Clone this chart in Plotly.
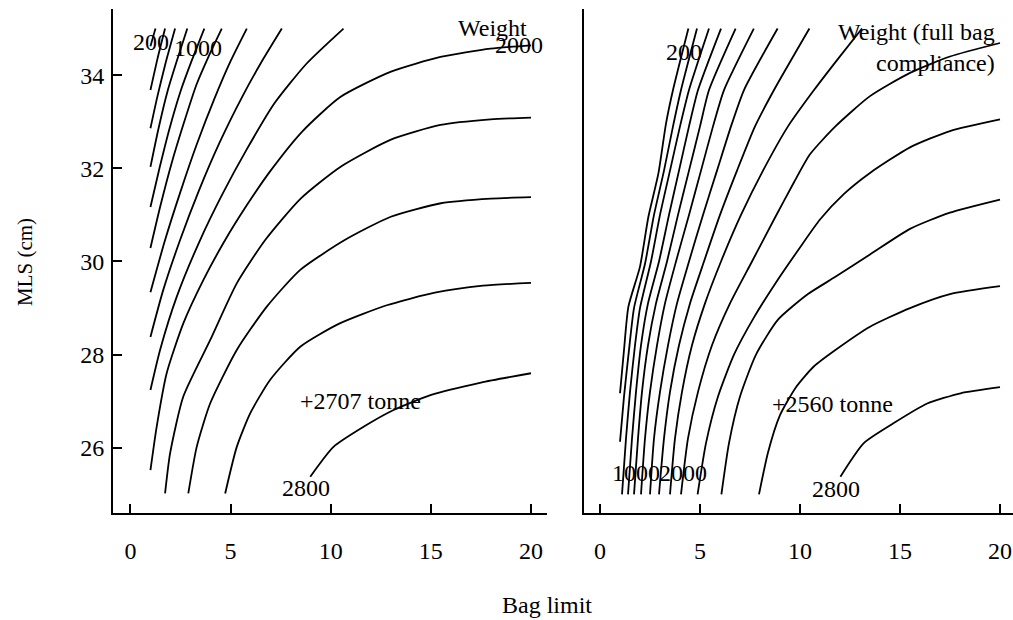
import plotly.graph_objects as go

# ---------------- data: contour lines ----------------
# Left panel: "Weight"  (x = bag limit, y = MLS cm)
left_levels = [200, 400, 600, 800, 1000, 1200, 1400, 1600, 1800, 2000, 2200, 2400, 2600, 2800]

left_200_x = [1.0, 1.25]
left_200_y = [34.62, 35.0]
left_400_x = [1.0, 1.35, 1.73]
left_400_y = [33.68, 34.35, 35.0]
left_600_x = [1.0, 1.35, 1.75, 2.23]
left_600_y = [32.86, 33.55, 34.25, 35.0]
left_800_x = [1.0, 1.4, 1.85, 2.35, 2.84]
left_800_y = [32.03, 32.85, 33.65, 34.35, 35.0]
left_1000_x = [1.0, 1.45, 1.95, 2.5, 3.05, 3.69]
left_1000_y = [31.17, 32.0, 32.85, 33.65, 34.3, 35.0]
left_1200_x = [1.0, 1.5, 2.05, 2.65, 3.3, 3.9, 4.56]
left_1200_y = [30.29, 31.2, 32.1, 32.95, 33.8, 34.4, 35.0]
left_1400_x = [1.0, 1.73, 2.5, 3.3, 4.2, 5.0, 5.81]
left_1400_y = [29.34, 30.46, 31.5, 32.5, 33.5, 34.3, 35.0]
left_1600_x = [1.0, 1.64, 2.48, 3.4, 4.45, 5.6, 6.5, 7.56]
left_1600_y = [28.38, 29.39, 30.46, 31.5, 32.55, 33.55, 34.25, 35.0]
left_1800_x = [1.0, 1.48, 2.31, 3.48, 4.6, 5.8, 7.2, 8.8, 10.64]
left_1800_y = [27.24, 28.1, 29.24, 30.46, 31.45, 32.4, 33.4, 34.25, 35.0]
left_2000_x = [1.0, 1.31, 1.81, 2.64, 3.64, 4.73, 5.8, 7.0, 8.6, 10.48, 12.98, 15.48, 17.98, 20.0]
left_2000_y = [25.52, 26.45, 27.6, 28.67, 29.6, 30.46, 31.2, 31.95, 32.8, 33.53, 34.07, 34.39, 34.57, 34.64]
left_2200_x = [1.73, 1.98, 2.64, 3.98, 5.31, 6.73, 8.5, 10.48, 12.98, 15.48, 17.98, 20.0]
left_2200_y = [25.02, 25.88, 27.1, 28.31, 29.53, 30.46, 31.35, 32.03, 32.61, 32.93, 33.05, 33.09]
left_2400_x = [2.89, 3.31, 3.98, 5.31, 6.81, 8.48, 10.7, 13.0, 15.5, 18.0, 20.0]
left_2400_y = [25.02, 26.02, 26.95, 28.1, 29.03, 29.82, 30.46, 30.96, 31.25, 31.35, 31.38]
left_2600_x = [4.73, 5.31, 5.98, 6.98, 8.48, 10.4, 12.8, 15.2, 17.6, 20.0]
left_2600_y = [25.02, 26.02, 26.74, 27.46, 28.17, 28.66, 29.06, 29.33, 29.48, 29.54]
left_2800_x = [8.98, 10.14, 11.64, 13.14, 14.98, 17.5, 20.0]
left_2800_y = [25.38, 26.02, 26.45, 26.81, 27.13, 27.4, 27.6]

# Right panel: "Weight (full bag compliance)"
right_levels = [200, 400, 600, 800, 1000, 1200, 1400, 1600, 1800, 2000, 2200, 2400, 2600, 2800]

right_200_x = [1.0, 1.2, 1.42, 2.0, 2.42, 2.92, 3.3, 3.65, 4.42]
right_200_y = [27.17, 28.1, 29.03, 29.89, 30.96, 31.89, 32.96, 33.68, 35.0]
right_400_x = [1.0, 1.2, 1.45, 1.7, 2.25, 2.7, 3.2, 3.65, 4.05, 4.85]
right_400_y = [26.13, 27.1, 28.1, 29.0, 29.95, 31.0, 31.95, 32.9, 33.68, 35.0]
right_600_x = [1.1, 1.3, 1.5, 1.75, 2.0, 2.55, 3.0, 3.5, 4.0, 4.45, 5.45]
right_600_y = [25.0, 26.2, 27.2, 28.2, 29.0, 30.0, 31.0, 31.95, 32.9, 33.68, 35.0]
right_800_x = [1.4, 1.6, 1.8, 2.05, 2.4, 2.95, 3.45, 3.95, 4.45, 4.9, 6.05]
right_800_y = [25.0, 26.2, 27.2, 28.2, 29.1, 30.0, 31.0, 31.95, 32.9, 33.68, 35.0]
right_1000_x = [1.7, 1.9, 2.1, 2.4, 2.8, 3.35, 3.9, 4.45, 5.0, 5.45, 6.78]
right_1000_y = [25.0, 26.2, 27.2, 28.2, 29.1, 30.0, 31.0, 31.95, 32.9, 33.68, 35.0]
right_1200_x = [2.05, 2.25, 2.5, 2.85, 3.25, 3.8, 4.45, 5.05, 5.65, 6.2, 7.69]
right_1200_y = [25.0, 26.2, 27.2, 28.2, 29.1, 30.0, 31.0, 31.95, 32.9, 33.68, 35.0]
right_1400_x = [2.5, 2.7, 3.0, 3.4, 3.85, 4.45, 5.15, 5.85, 6.55, 7.2, 8.88]
right_1400_y = [25.0, 26.2, 27.2, 28.2, 29.1, 30.0, 31.0, 31.95, 32.9, 33.68, 35.0]
right_1600_x = [2.95, 3.2, 3.5, 3.95, 4.5, 5.2, 6.0, 6.85, 7.75, 8.7, 10.47]
right_1600_y = [25.0, 26.2, 27.2, 28.2, 29.1, 30.0, 31.0, 31.95, 32.9, 33.68, 35.0]
right_1800_x = [3.5, 3.75, 4.1, 4.6, 5.25, 6.05, 7.05, 8.15, 9.4, 10.7, 11.9, 13.1]
right_1800_y = [25.0, 26.2, 27.2, 28.2, 29.1, 30.0, 31.0, 31.95, 32.9, 33.68, 34.35, 35.0]
right_2000_x = [4.05, 4.4, 4.9, 5.6, 6.5, 7.6, 8.7, 9.7, 10.5, 11.77, 13.5, 15.5, 17.5, 20.0]
right_2000_y = [25.0, 26.2, 27.2, 28.2, 29.1, 30.0, 30.9, 31.7, 32.3, 32.9, 33.55, 34.05, 34.4, 34.69]
right_2200_x = [4.88, 5.3, 5.9, 6.7, 7.7, 8.8, 10.0, 11.0, 12.2, 13.5, 15.5, 17.5, 20.0]
right_2200_y = [25.0, 26.1, 27.1, 28.0, 28.8, 29.55, 30.3, 30.9, 31.45, 31.9, 32.45, 32.8, 33.05]
right_2400_x = [6.07, 6.45, 7.0, 7.8, 8.9, 10.4, 11.77, 13.5, 15.5, 17.5, 20.0]
right_2400_y = [25.0, 26.1, 27.1, 28.0, 28.75, 29.3, 29.67, 30.15, 30.7, 31.05, 31.33]
right_2600_x = [7.95, 8.4, 9.0, 9.8, 10.7, 11.77, 13.5, 15.5, 17.5, 20.0]
right_2600_y = [25.0, 25.9, 26.7, 27.3, 27.75, 28.1, 28.6, 29.0, 29.3, 29.47]
right_2800_x = [12.02, 13.19, 14.69, 16.36, 18.03, 20.0]
right_2800_y = [25.38, 26.1, 26.53, 26.95, 27.17, 27.3]

left_lines = [
    (left_200_x, left_200_y), (left_400_x, left_400_y), (left_600_x, left_600_y),
    (left_800_x, left_800_y), (left_1000_x, left_1000_y), (left_1200_x, left_1200_y),
    (left_1400_x, left_1400_y), (left_1600_x, left_1600_y), (left_1800_x, left_1800_y),
    (left_2000_x, left_2000_y), (left_2200_x, left_2200_y), (left_2400_x, left_2400_y),
    (left_2600_x, left_2600_y), (left_2800_x, left_2800_y),
]
right_lines = [
    (right_200_x, right_200_y), (right_400_x, right_400_y), (right_600_x, right_600_y),
    (right_800_x, right_800_y), (right_1000_x, right_1000_y), (right_1200_x, right_1200_y),
    (right_1400_x, right_1400_y), (right_1600_x, right_1600_y), (right_1800_x, right_1800_y),
    (right_2000_x, right_2000_y), (right_2200_x, right_2200_y), (right_2400_x, right_2400_y),
    (right_2600_x, right_2600_y), (right_2800_x, right_2800_y),
]

# contour labels: (text, x, y)
left_label_text = ["200", "1000", "2000", "2800"]
left_label_x = [1.05, 3.35, 19.4, 8.77]
left_label_y = [34.71, 34.59, 34.65, 25.14]
right_label_text = ["200", "1000", "2000", "2800"]
right_label_x = [4.2, 1.8, 4.15, 11.8]
right_label_y = [34.5, 25.45, 25.45, 25.12]

# current-regulation points and their yields
left_point = (8.75, 27.0)
left_point_value = 2707
right_point = (8.9, 26.95)
right_point_value = 2560

x_ticks = [0, 5, 10, 15, 20]
y_ticks = [26, 28, 30, 32, 34]

# ---------------- figure ----------------
W, H = 1013, 620
FONT = "Liberation Serif, Times New Roman, serif"
FS = 24


def px(p):
    return p / W


def py(p):
    return 1 - p / H


fig = go.Figure()
for xs, ys in left_lines:
    fig.add_trace(go.Scatter(x=xs, y=ys, mode="lines", xaxis="x", yaxis="y",
                             line=dict(color="black", width=1.8, shape="spline", smoothing=0.6),
                             hoverinfo="skip", showlegend=False))
for xs, ys in right_lines:
    fig.add_trace(go.Scatter(x=xs, y=ys, mode="lines", xaxis="x2", yaxis="y2",
                             line=dict(color="black", width=1.8, shape="spline", smoothing=0.6),
                             hoverinfo="skip", showlegend=False))

ann = []
for t, x, y in zip(left_label_text, left_label_x, left_label_y):
    ann.append(dict(text=t, x=x, y=y, xref="x", yref="y", showarrow=False,
                    xanchor="center", yanchor="middle"))
for t, x, y in zip(right_label_text, right_label_x, right_label_y):
    ann.append(dict(text=t, x=x, y=y, xref="x2", yref="y2", showarrow=False,
                    xanchor="center", yanchor="middle"))

ann.append(dict(text=f"+{left_point_value} tonne", x=left_point[0], y=left_point[1],
                xref="x", yref="y", showarrow=False, xanchor="left", yanchor="middle",
                xshift=-8))
ann.append(dict(text=f"+{right_point_value} tonne", x=right_point[0], y=right_point[1],
                xref="x2", yref="y2", showarrow=False, xanchor="left", yanchor="middle",
                xshift=-8))

ann.append(dict(text="Weight", x=19.9, y=35.02, xref="x", yref="y", showarrow=False,
                xanchor="right", yanchor="middle"))
ann.append(dict(text="Weight (full bag<br>compliance)", x=19.85, y=34.6, xref="x2", yref="y2",
                showarrow=False, xanchor="right", yanchor="middle", align="right"))

ann.append(dict(text="MLS (cm)", x=px(25), y=py(262), xref="paper", yref="paper",
                showarrow=False, textangle=-90, xanchor="center", yanchor="middle",
                font=dict(family=FONT, size=21, color="black")))
ann.append(dict(text="Bag limit", x=px(547), y=py(605), xref="paper", yref="paper",
                showarrow=False, xanchor="center", yanchor="middle"))

axis_common = dict(showgrid=False, zeroline=False, showline=True, linecolor="black",
                   linewidth=1.8, ticks="inside", tickcolor="black", tickwidth=1.5,
                   ticklen=9, mirror=False, tickfont=dict(family=FONT, size=FS, color="black"))

y_dom = [py(513), py(9)]

fig.update_layout(
    width=W, height=H,
    margin=dict(l=0, r=0, t=0, b=0),
    paper_bgcolor="white", plot_bgcolor="white",
    font=dict(family=FONT, size=FS, color="black"),
    showlegend=False,
    annotations=ann,
    xaxis=dict(axis_common, domain=[px(113), px(547)], range=[-0.87, 20.8],
               tickvals=x_ticks, ticklabelstandoff=15, anchor="y"),
    yaxis=dict(axis_common, domain=y_dom, range=[24.6, 35.42],
               tickvals=y_ticks, ticklabelstandoff=2, anchor="x"),
    xaxis2=dict(axis_common, domain=[px(584), 1.0], range=[-0.8, 20.65],
                tickvals=x_ticks, ticklabelstandoff=15, anchor="y2"),
    yaxis2=dict(axis_common, domain=y_dom, range=[24.6, 35.42],
                ticks="", showticklabels=False, anchor="x2"),
)

# remove the default page margin so the 1013x620 figure fills the window exactly
fig.write_html("out.html",
               config={"displayModeBar": False},
               post_script="document.body.style.margin='0';document.body.style.overflow='hidden';")
